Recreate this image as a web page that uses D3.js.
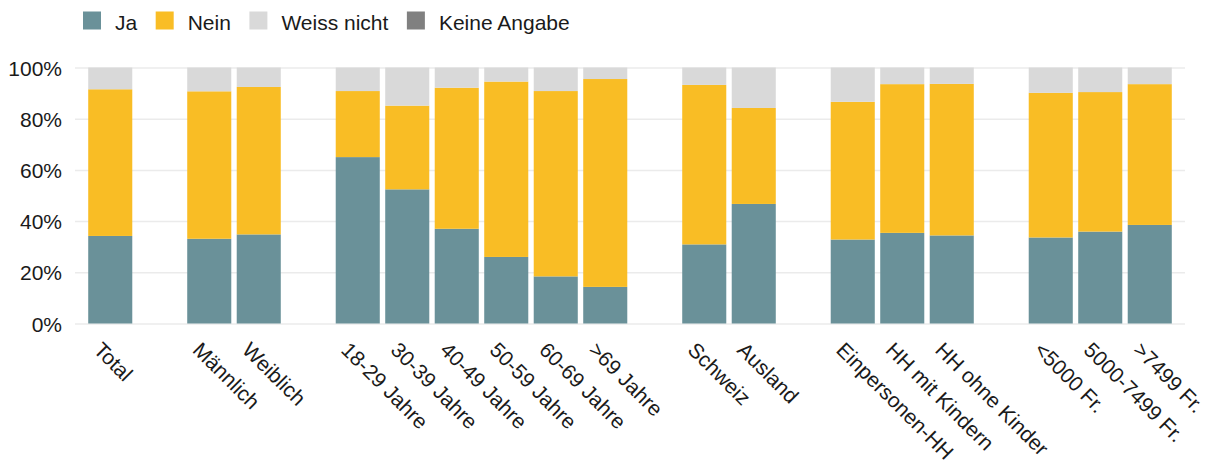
<!DOCTYPE html>
<html>
<head>
<meta charset="utf-8">
<script src="https://cdn.jsdelivr.net/npm/d3@7"></script>
<style>
  body { margin: 0; background: #fff; }
  svg { display: block; font-family: "Liberation Sans", Arial, sans-serif; }
</style>
</head>
<body>
<svg id="chart" width="1208" height="464"></svg>
<script>
// groups of categories, a blank slot is left between groups
const groups = [
    ["Total"],
    ["Männlich", "Weiblich"],
    ["18-29 Jahre", "30-39 Jahre", "40-49 Jahre", "50-59 Jahre", "60-69 Jahre", ">69 Jahre"],
    ["Schweiz", "Ausland"],
    ["Einpersonen-HH", "HH mit Kindern", "HH ohne Kinder"],
    ["<5000 Fr.", "5000-7499 Fr.", ">7499 Fr."]
]
const categories = groups.flat()

// values in percent, same order as categories
const ja          = [34.2, 33.1, 34.8, 65.0, 52.4, 37.0, 26.0, 18.4, 14.3, 30.9, 46.7, 32.8, 35.4, 34.4, 33.6, 35.9, 38.5]
const nein        = [57.3, 57.6, 57.6, 25.8, 32.7, 55.1, 68.5, 72.4, 81.2, 62.3, 37.5, 53.8, 58.1, 59.2, 56.5, 54.5, 55.0]
const weissNicht  = [8.5, 9.3, 7.6, 9.2, 14.9, 7.9, 5.5, 9.2, 4.5, 6.8, 15.8, 13.4, 6.5, 6.4, 9.9, 9.6, 6.5]
const keineAngabe = [0, 0, 0, 0, 0, 0, 0, 0, 0, 0, 0, 0, 0, 0, 0, 0, 0]

const seriesNames = ["Ja", "Nein", "Weiss nicht", "Keine Angabe"]
const yTicks = [0, 20, 40, 60, 80, 100]

const colors = ["#6a9199", "#f9bd25", "#d9d9d9", "#808080"]

let svg = d3.select('#chart')

// table for the stack
let rows = categories.map((c, i) => {
    return {
        cat: c,
        "Ja": ja[i],
        "Nein": nein[i],
        "Weiss nicht": weissNicht[i],
        "Keine Angabe": keineAngabe[i]
    }
})

// slots incl. spacers between groups
let slots = []
groups.forEach((g, gi) => {
    if (gi > 0) slots.push("__gap" + gi)
    g.forEach((c) => slots.push(c))
})

let x = d3.scaleBand()
        .domain(slots)
        .range([85.5, 1174.5])
        .paddingInner(0.11)
        .paddingOuter(0.055)

let y = d3.scaleLinear()
        .domain([0, 100])
        .range([323.5, 67.5])

// y axis with gridlines
let yAxis = svg.append('g')
        .attr('transform', 'translate(75,0)')
        .call(d3.axisLeft(y)
                .tickValues(yTicks)
                .tickSize(-1110)
                .tickPadding(13)
                .tickFormat((d) => d + '%'))
yAxis.select('.domain').remove()
yAxis.selectAll('line')
        .attr('stroke', '#ebebeb')
        .attr('stroke-width', 1.5)
yAxis.selectAll('text')
        .attr('fill', '#1a1a1a')
        .attr('font-size', 21)
        .attr('dy', '0.36em')

// stacked bars
let stack = d3.stack().keys(seriesNames)
let layers = stack(rows)

svg.append('g')
        .selectAll('g')
        .data(layers)
        .enter()
        .append('g')
        .attr('fill', (d, i) => colors[i])
        .selectAll('rect')
        .data((d) => d)
        .enter()
        .append('rect')
        .attr('x', (d) => x(d.data.cat))
        .attr('width', x.bandwidth())
        .attr('y', (d) => y(d[1]))
        .attr('height', (d) => y(d[0]) - y(d[1]))

// x axis labels, rotated
let xAxis = svg.append('g')
        .attr('transform', 'translate(0,323.5)')
        .call(d3.axisBottom(x).tickValues(categories).tickSize(0))
xAxis.select('.domain').remove()
xAxis.selectAll('text')
        .attr('fill', '#1a1a1a')
        .attr('font-size', 21)
        .attr('x', 0)
        .attr('y', 0)
        .attr('dy', '0.72em')
        .attr('text-anchor', 'start')
        .attr('transform', 'translate(-7,17) rotate(45)')

// legend
let legend = svg.append('g')
let lx = 83
seriesNames.forEach((name, i) => {
    legend.append('rect')
            .attr('x', lx)
            .attr('y', 11.5)
            .attr('width', 18)
            .attr('height', 18)
            .attr('fill', colors[i])
    let t = legend.append('text')
            .attr('x', lx + 32)
            .attr('y', 29.5)
            .attr('font-size', 21)
            .attr('fill', '#1a1a1a')
            .text(name)
    lx = lx + 32 + t.node().getComputedTextLength() + 18.5
})
</script>
</body>
</html>
